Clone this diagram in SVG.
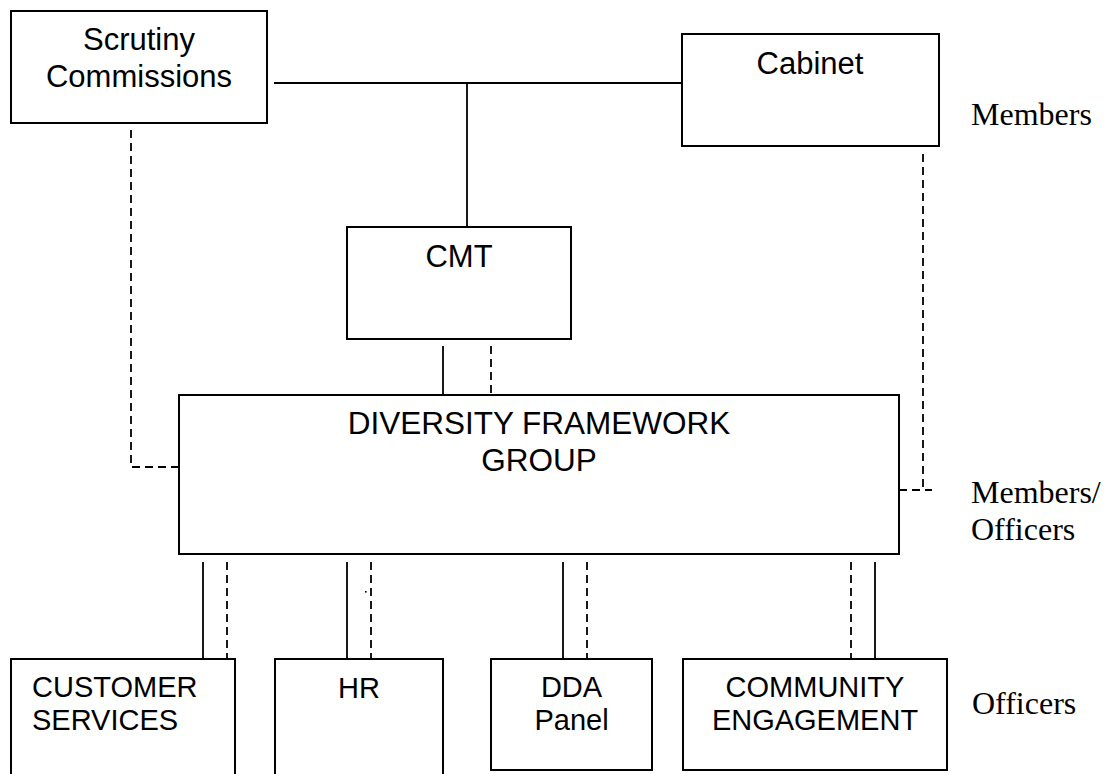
<svg xmlns="http://www.w3.org/2000/svg" width="1109" height="774" viewBox="0 0 1109 774">
<style>
.box{fill:#fff;stroke:#000;stroke-width:2}
.ln{fill:none;stroke:#000;stroke-width:1.8}
.dash{fill:none;stroke:#000;stroke-width:1.8;stroke-dasharray:8 5}
.t{font-family:"Liberation Sans",Arial,sans-serif;font-size:31px;fill:#000;text-anchor:middle}
.tb{font-family:"Liberation Sans",Arial,sans-serif;font-size:29px;fill:#000;text-anchor:middle}
.lab{font-family:"Liberation Serif","Times New Roman",serif;font-size:32px;fill:#000}
</style>
<rect width="1109" height="774" fill="#fff"/>
<g id="connectors">
<path class="ln" d="M274 83H682M467 83V227"/>
<path class="dash" d="M131 130V467H179"/>
<path class="dash" d="M923 154V490M899 490H932"/>
<path class="ln" d="M443 346V395"/>
<path class="dash" d="M491 346V395"/>
<path class="ln" d="M203 562V659M347 562V659M563 562V659M875 562V659"/>
<path class="dash" d="M227 562V659M371 562V659M587 562V659M851 562V659"/>
<rect x="365" y="591" width="1.6" height="1.6" fill="#000"/>
</g>
<g id="scrutiny">
<rect class="box" x="11" y="11" width="256" height="112"/>
<text class="t" x="139" y="50">Scrutiny</text>
<text class="t" x="139" y="87">Commissions</text>
</g>
<g id="cabinet">
<rect class="box" x="682" y="34" width="257" height="112"/>
<text class="t" x="810" y="74">Cabinet</text>
</g>
<g id="cmt">
<rect class="box" x="347" y="227" width="224" height="112"/>
<text class="t" x="459" y="267">CMT</text>
</g>
<g id="dfg">
<rect class="box" x="179" y="395" width="720" height="159"/>
<text class="t" x="539" y="434" style="font-size:31.5px">DIVERSITY FRAMEWORK</text>
<text class="t" x="539" y="471" style="font-size:31.5px">GROUP</text>
</g>
<g id="customer">
<rect class="box" x="11" y="659" width="224" height="130"/>
<text class="tb" x="32" y="697" style="text-anchor:start">CUSTOMER</text>
<text class="tb" x="32" y="730" style="text-anchor:start">SERVICES</text>
</g>
<g id="hr">
<rect class="box" x="275" y="659" width="168" height="130"/>
<text class="tb" x="359" y="698">HR</text>
</g>
<g id="dda">
<rect class="box" x="491" y="659" width="161" height="111"/>
<text class="tb" x="571.5" y="697">DDA</text>
<text class="tb" x="571.5" y="730">Panel</text>
</g>
<g id="community">
<rect class="box" x="683" y="659" width="264" height="111"/>
<text class="tb" x="815" y="697">COMMUNITY</text>
<text class="tb" x="815" y="730">ENGAGEMENT</text>
</g>
<g id="labels">
<text class="lab" x="971" y="125">Members</text>
<text class="lab" x="971" y="503">Members/</text>
<text class="lab" x="971" y="540">Officers</text>
<text class="lab" x="972" y="714">Officers</text>
</g>
</svg>
